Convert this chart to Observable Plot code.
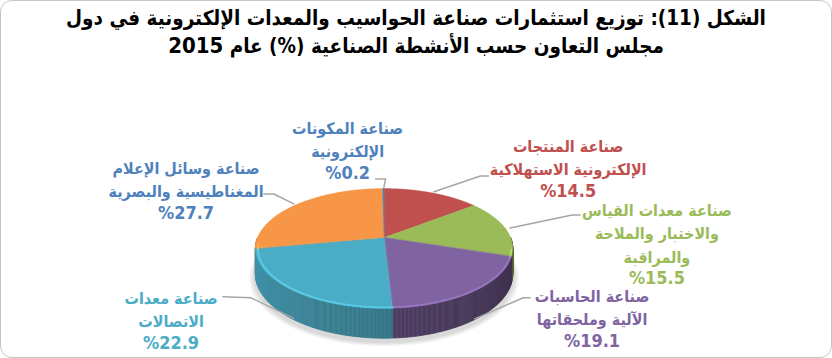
<!DOCTYPE html>
<html>
<head>
<meta charset="utf-8">
<script src="https://cdn.jsdelivr.net/npm/d3@7"></script>
<script src="https://cdn.jsdelivr.net/npm/@observablehq/plot@0.6"></script>
<style>
  html, body { margin: 0; padding: 0; background: #fff; }
  #wrap { position: relative; width: 832px; height: 358px; box-sizing: border-box;
          border: 1.5px solid #c4c4c4; border-radius: 12px; overflow: hidden; background: #fff; }
  #title { position: absolute; top: 3px; left: 0; width: 100%; text-align: center; direction: rtl;
           font-family: "DejaVu Sans Condensed", "DejaVu Sans", sans-serif; font-weight: bold;
           font-size: 20.5px; line-height: 28px; color: #000; z-index: 2; }
  #title .yr { font-size: 22px; }
  #chart { position: absolute; top: 0; left: 0; }
  #chart text { direction: rtl; }
</style>
</head>
<body>
<div id="wrap">
  <div id="title">الشكل (11): توزيع استثمارات صناعة الحواسيب والمعدات الإلكترونية في دول<br>مجلس التعاون حسب الأنشطة الصناعية (%)  عام <span class="yr">2015</span></div>
  <div id="chart"></div>
</div>
<script>
// ---- data (clockwise from 12 o'clock) ----
const categories = [
  "صناعة المنتجات الإلكترونية الاستهلاكية",
  "صناعة معدات القياس والاختبار والملاحة والمراقبة",
  "صناعة الحاسبات الآلية وملحقاتها",
  "صناعة معدات الاتصالات",
  "صناعة وسائل الإعلام المغناطيسية والبصرية",
  "صناعة المكونات الإلكترونية"
];
const values = [14.5, 15.5, 19.1, 22.9, 27.7, 0.2];
const labelLines = [
  ["صناعة المنتجات", "الإلكترونية الاستهلاكية"],
  ["صناعة معدات القياس", "والاختبار والملاحة", "والمراقبة"],
  ["صناعة الحاسبات", "الآلية وملحقاتها"],
  ["صناعة معدات", "الاتصالات"],
  ["صناعة وسائل الإعلام", "المغناطيسية والبصرية"],
  ["صناعة المكونات", "الإلكترونية"]
];
const valueLabels = ["%14.5", "%15.5", "%19.1", "%22.9", "%27.7", "%0.2"];
const sliceColors = ["#c0504d", "#9bbb59", "#8064a2", "#4bacc6", "#f79646", "#4f81bd"];
const labelColors = ["#c0504d", "#9bbb59", "#8064a2", "#4bacc6", "#4f81bd", "#4f81bd"];

// ---- layout (pixels) ----
const W = 832, H = 358;
const cx = 384, cy = 237, R = 126.8, A = 58, B = 0.1834, D = 24.5;
const labelPos = [[568, 143], [657, 207], [592, 293], [170, 295], [185, 165], [347, 125]];
const leaderElbows = [
  [[480, 175], [488, 175]],
  [[572, 214], [580, 214]],
  [[523, 297], [530, 297]],
  [[250, 297], [222, 296]],
  [[273, 193], [263, 193]],
  [[385, 178], [375, 178]]
];
const fontSize = 16, numSize = 18, lineH = 23.6;
const font = "'DejaVu Sans Condensed', 'DejaVu Sans', sans-serif";

// perspective projection of a point on the pie disc
function proj(theta, r = 1, down = 0) {
  const X = r * Math.cos(theta), Z = r * Math.sin(theta);
  const s = 1 / (1 - B * Z);
  return [cx + X * R * s, cy + A * Z * s + down * D * s];
}

const total = d3.sum(values);
let cum = 0;
const slices = values.map((v, i) => {
  const t1 = -Math.PI / 2 + 2 * Math.PI * cum / total;
  cum += v;
  const t2 = -Math.PI / 2 + 2 * Math.PI * cum / total;
  return {i, v, t1, t2, mid: (t1 + t2) / 2};
});

const step = Math.PI / 360;
function angles(a, b) {
  const n = Math.max(2, Math.ceil((b - a) / step));
  return d3.range(n + 1).map(k => a + (b - a) * k / n);
}

// top faces
const topRows = [];
for (const s of slices) {
  for (const t of angles(s.t1, s.t2)) {
    const [x, y] = proj(t);
    topRows.push({z: "top" + s.i, x1: x, y1: y, x2: cx, y2: cy, fill: sliceColors[s.i]});
  }
}

// sides (front half only), shaded by angle (light from the left), drawn back to front
const segs = [];
for (const s of slices) {
  const a = Math.max(s.t1, 0), b = Math.min(s.t2, Math.PI);
  if (b <= a) continue;
  const ts = angles(a, b);
  for (let k = 0; k < ts.length - 1; k++) {
    const tm = (ts[k] + ts[k + 1]) / 2;
    const dark = 0.25 + 1.6 * (1 - tm / Math.PI) + (s.i === 2 ? 0.35 : 0);
    const col = d3.color(sliceColors[s.i]).darker(dark).formatHex();
    segs.push({t0: ts[k], t1: ts[k + 1], depth: Math.sin(tm), col});
  }
}
segs.sort((p, q) => p.depth - q.depth);
const sideRows = [];
segs.forEach((g, n) => {
  for (const t of [g.t0, g.t1]) {
    const [x1, y1] = proj(t, 1, 0);
    const [x2, y2] = proj(t, 1, 1);
    sideRows.push({z: n, x1, y1, x2, y2, fill: g.col});
  }
});

// soft shadow under the pie (several faint ellipses)
const shadowRows = [];
[1.045, 1.03, 1.015].forEach((r, j) => {
  const [ccx, ccy] = proj(0, 0, 1.12);
  for (const t of angles(0, 2 * Math.PI)) {
    const [x, y] = proj(t, r, 1.12);
    shadowRows.push({z: "sh" + j, x1: x, y1: y, x2: ccx, y2: ccy});
  }
});

// rim highlight along the front edge of top face
const rimRows = [];
for (const s of slices) {
  const a = Math.max(s.t1, 0.2), b = Math.min(s.t2, Math.PI - 0.1);
  if (b <= a) continue;
  for (const t of angles(a, b)) {
    const [x, y] = proj(t, 0.985);
    rimRows.push({z: "rim" + s.i, x, y, stroke: d3.color(sliceColors[s.i]).brighter(0.7).formatHex()});
  }
}

// leader lines
const leaderRows = [];
for (const s of slices) {
  const front = Math.sin(s.mid) > 0.3;
  const start = front ? proj(s.mid, 1, 0.95) : proj(s.mid, 1.04, 0);
  const pts = [start, ...leaderElbows[s.i]];
  pts.forEach(([x, y]) => leaderRows.push({z: "ld" + s.i, x, y}));
}

// labels: category text lines and value line
const labelRows = slices.map(s => ({
  x: labelPos[s.i][0],
  y: labelPos[s.i][1] - 9,
  text: labelLines[s.i].join("\n"),
  fill: labelColors[s.i],
  name: categories[s.i]
}));
const valueRows = slices.map(s => ({
  x: labelPos[s.i][0],
  y: labelPos[s.i][1] + labelLines[s.i].length * lineH,
  text: valueLabels[s.i],
  fill: labelColors[s.i],
  name: categories[s.i] + ": " + s.v
}));

const plot = Plot.plot({
  width: W, height: H,
  margin: 0,
  x: {domain: [0, W], range: [0, W], axis: null},
  y: {domain: [0, H], range: [0, H], axis: null},
  color: {type: "identity"},
  style: {background: "transparent", overflow: "visible"},
  marks: [
    Plot.area(shadowRows, {x1: "x1", y1: "y1", x2: "x2", y2: "y2", z: "z", fill: "#000", fillOpacity: 0.05, curve: "linear"}),
    Plot.area(sideRows, {x1: "x1", y1: "y1", x2: "x2", y2: "y2", z: "z", fill: "fill", stroke: "fill", strokeWidth: 0.6, curve: "linear"}),
    Plot.area(topRows, {x1: "x1", y1: "y1", x2: "x2", y2: "y2", z: "z", fill: "fill", stroke: "fill", strokeWidth: 0.4, curve: "linear"}),
    Plot.line(rimRows, {x: "x", y: "y", z: "z", stroke: "stroke", strokeWidth: 2, strokeOpacity: 0.6}),
    Plot.line(leaderRows, {x: "x", y: "y", z: "z", stroke: "#a6a6a6", strokeWidth: 1.5, curve: "linear"}),
    Plot.text(labelRows, {x: "x", y: "y", text: "text", fill: "fill", fontSize, fontWeight: "bold",
      fontFamily: font, lineHeight: lineH / fontSize, lineAnchor: "top", textAnchor: "middle", title: "name"}),
    Plot.text(valueRows, {x: "x", y: "y", text: "text", fill: "fill", fontSize: numSize, fontWeight: "bold",
      fontFamily: font, textAnchor: "middle", title: "name"})
  ]
});
document.getElementById("chart").appendChild(plot);
</script>
</body>
</html>
